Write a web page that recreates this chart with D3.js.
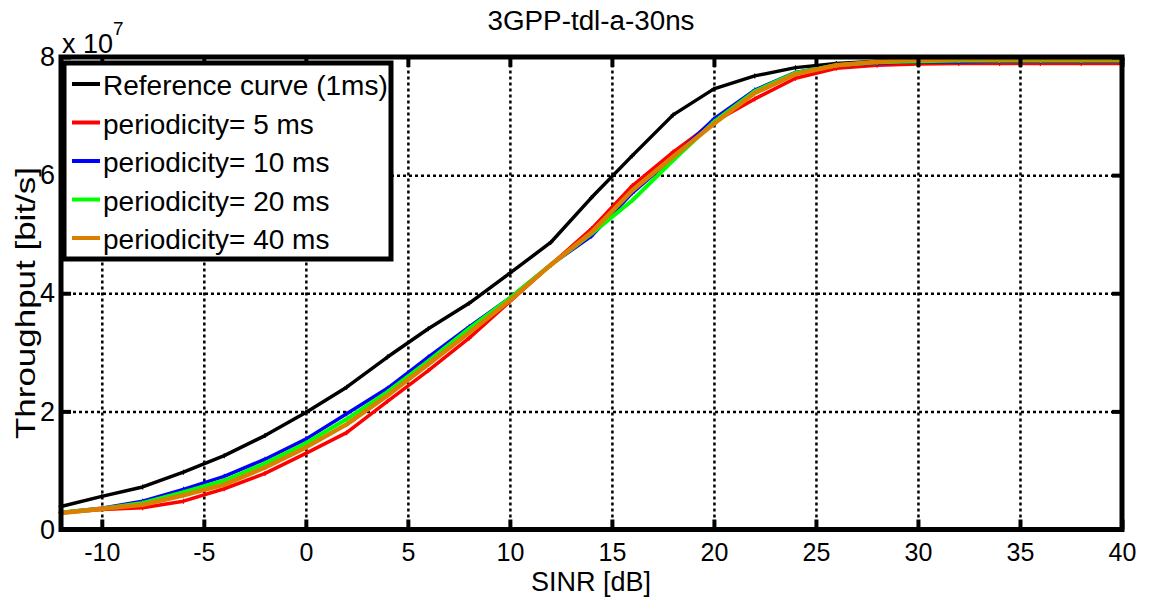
<!DOCTYPE html>
<html>
<head>
<meta charset="utf-8">
<script src="https://cdn.jsdelivr.net/npm/d3@7"></script>
<style>
  body { margin: 0; background: #fff; }
  text { font-family: "Liberation Sans", Arial, sans-serif; fill: #000; }
  .grid line { stroke: #000; stroke-width: 2.5; stroke-dasharray: 3,3; }
  .grid path { display: none; }
  .ax path { display: none; }
  .ax line { stroke: #000; stroke-width: 4; }
</style>
</head>
<body>
<div id="chart-area"></div>
<script>
var width = 1150;
var height = 599;

// SINR [dB], one point every 2 dB
var sinr = [-12, -10, -8, -6, -4, -2, 0, 2, 4, 6, 8, 10, 12, 14, 16, 18, 20, 22, 24, 26, 28, 30, 32, 34, 36, 38, 40];

// throughput in units of 1e7 bit/s
var refCurve = [0.39, 0.56, 0.72, 0.97, 1.25, 1.59, 1.98, 2.41, 2.92, 3.40, 3.83, 4.34, 4.86, 5.62, 6.33, 7.02, 7.46, 7.68, 7.82, 7.89, 7.93, 7.95, 7.95, 7.96, 7.96, 7.96, 7.96];
var per5 = [0.28, 0.34, 0.37, 0.48, 0.69, 0.95, 1.29, 1.64, 2.17, 2.69, 3.24, 3.86, 4.48, 5.09, 5.82, 6.39, 6.90, 7.29, 7.64, 7.81, 7.86, 7.88, 7.89, 7.89, 7.89, 7.89, 7.89];
var per10 = [0.29, 0.36, 0.48, 0.68, 0.90, 1.19, 1.53, 1.96, 2.39, 2.92, 3.43, 3.92, 4.48, 4.97, 5.70, 6.30, 6.95, 7.44, 7.74, 7.86, 7.90, 7.92, 7.92, 7.93, 7.93, 7.93, 7.93];
var per20 = [0.29, 0.35, 0.45, 0.63, 0.83, 1.12, 1.46, 1.87, 2.33, 2.85, 3.40, 3.92, 4.48, 5.01, 5.57, 6.25, 6.90, 7.42, 7.73, 7.86, 7.91, 7.93, 7.94, 7.94, 7.94, 7.94, 7.94];
var per40 = [0.28, 0.35, 0.42, 0.58, 0.76, 1.05, 1.39, 1.78, 2.27, 2.80, 3.33, 3.88, 4.48, 5.03, 5.74, 6.31, 6.87, 7.39, 7.71, 7.86, 7.92, 7.95, 7.96, 7.96, 7.96, 7.96, 7.96];

var seriesNames = ["Reference curve (1ms)", "periodicity= 5 ms", "periodicity= 10 ms", "periodicity= 20 ms", "periodicity= 40 ms"];
var seriesValues = [refCurve, per5, per10, per20, per40];
var seriesColors = ["#000000", "#ff0000", "#0000ff", "#00ff00", "#d98000"];
var seriesWidths = [3.5, 3.5, 3.5, 4, 4.5];

var xTicks = [-10, -5, 0, 5, 10, 15, 20, 25, 30, 35, 40];
var yTicks = [0, 2, 4, 6, 8];

var plotLeft = 61, plotRight = 1122, plotTop = 57, plotBottom = 529.5;

var svg = d3.select("#chart-area").append("svg")
    .attr("width", width)
    .attr("height", height);

svg.append("rect").attr("width", width).attr("height", height).attr("fill", "#fff");

var x = d3.scaleLinear().domain([-12, 40]).range([plotLeft, plotRight]);
var y = d3.scaleLinear().domain([0, 8]).range([plotBottom, plotTop]);

function plainNum(d) { return String(d); }

// dotted grid
svg.append("g").attr("class", "grid")
    .attr("transform", "translate(0," + plotBottom + ")")
    .call(d3.axisBottom(x).tickValues(xTicks.filter(function(d){ return d < 40; }))
        .tickSize(-(plotBottom - plotTop)).tickFormat(""));

svg.append("g").attr("class", "grid")
    .attr("transform", "translate(" + plotLeft + ",0)")
    .call(d3.axisLeft(y).tickValues([2, 4, 6])
        .tickSize(-(plotRight - plotLeft)).tickFormat(""));

// curves
var line = d3.line()
    .x(function(d, i){ return x(sinr[i]); })
    .y(function(d){ return y(d); });

for (var s = 0; s < seriesValues.length; s++) {
    svg.append("path")
        .datum(seriesValues[s])
        .attr("d", line)
        .attr("fill", "none")
        .attr("stroke", seriesColors[s])
        .attr("stroke-width", seriesWidths[s])
        .attr("stroke-linejoin", "round");

    svg.append("g").selectAll("path")
        .data(seriesValues[s])
        .enter()
        .append("path")
        .attr("d", function(d, i){
            var px = x(sinr[i]), py = y(d);
            return "M" + (px - 2.5) + "," + py + "H" + (px + 2.5) + "M" + px + "," + (py - 2.5) + "V" + (py + 2.5);
        })
        .attr("stroke", seriesColors[s])
        .attr("stroke-width", 1.2);
}

// ticks on all four sides, pointing inward
svg.append("g").attr("class", "ax")
    .attr("transform", "translate(0," + plotBottom + ")")
    .call(d3.axisBottom(x).tickValues(xTicks).tickSize(-10).tickPadding(14).tickFormat(plainNum))
    .selectAll("text").attr("font-size", 25).attr("dy", "0.71em");

svg.append("g").attr("class", "ax")
    .attr("transform", "translate(0," + plotTop + ")")
    .call(d3.axisTop(x).tickValues(xTicks).tickSize(-10).tickFormat(""));

svg.append("g").attr("class", "ax")
    .attr("transform", "translate(" + plotLeft + ",0)")
    .call(d3.axisLeft(y).tickValues(yTicks).tickSize(-10).tickPadding(6).tickFormat(plainNum))
    .selectAll("text").attr("font-size", 27);

svg.append("g").attr("class", "ax")
    .attr("transform", "translate(" + plotRight + ",0)")
    .call(d3.axisRight(y).tickValues(yTicks).tickSize(-10).tickFormat(""));

// frame
svg.append("rect")
    .attr("x", plotLeft).attr("y", plotTop)
    .attr("width", plotRight - plotLeft).attr("height", plotBottom - plotTop)
    .attr("fill", "none").attr("stroke", "#000").attr("stroke-width", 5);

// exponent label
var expo = svg.append("text").attr("x", 62).attr("y", 53).attr("font-size", 27);
expo.append("tspan").text("x 10");
expo.append("tspan").attr("font-size", 19).attr("dy", -18).text("7");

// title and axis labels
svg.append("text").attr("x", 591).attr("y", 30).attr("text-anchor", "middle")
    .attr("font-size", 27).attr("textLength", 207).attr("lengthAdjust", "spacingAndGlyphs")
    .text("3GPP-tdl-a-30ns");

svg.append("text").attr("x", 591).attr("y", 591).attr("text-anchor", "middle")
    .attr("font-size", 27).text("SINR [dB]");

svg.append("text").attr("transform", "translate(35,303) rotate(-90)")
    .attr("text-anchor", "middle")
    .attr("font-size", 28).attr("textLength", 272).attr("lengthAdjust", "spacingAndGlyphs")
    .text("Throughput [bit/s]");

// legend
var legend = svg.append("g");
legend.append("rect")
    .attr("x", 64).attr("y", 63).attr("width", 327).attr("height", 196)
    .attr("fill", "#fff").attr("stroke", "#000").attr("stroke-width", 5);

var legendRows = legend.selectAll("g.row")
    .data(seriesNames)
    .enter()
    .append("g")
    .attr("class", "row")
    .attr("transform", function(d, i){ return "translate(0," + (84 + i * 38.5) + ")"; });

legendRows.append("line")
    .attr("x1", 72).attr("x2", 100)
    .attr("stroke", function(d, i){ return seriesColors[i]; })
    .attr("stroke-width", 4);

legendRows.append("text")
    .attr("x", 103).attr("y", 11)
    .attr("font-size", 28)
    .text(function(d){ return d; });
</script>
</body>
</html>
